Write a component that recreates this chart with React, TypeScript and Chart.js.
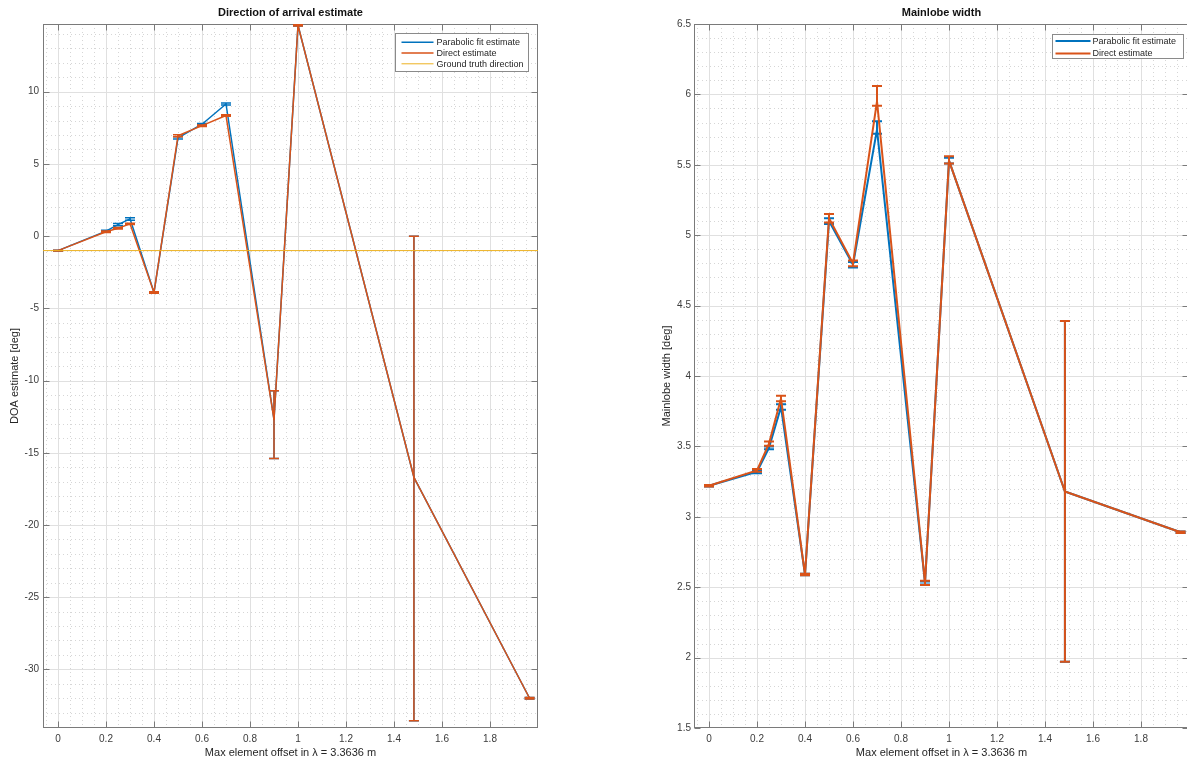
import React, { useEffect, useRef } from "react";
import { Chart, registerables } from "chart.js";

Chart.register(...registerables);
Chart.defaults.font.family = '"Liberation Sans", Arial, Helvetica, sans-serif';

// ---------------- data ----------------
const offsets = [0, 0.2, 0.25, 0.3, 0.4, 0.5, 0.6, 0.7, 0.9, 1.0, 1.483, 1.965];

const xTickValues = [0, 0.2, 0.4, 0.6, 0.8, 1, 1.2, 1.4, 1.6, 1.8];
const xTickLabels = ["0", "0.2", "0.4", "0.6", "0.8", "1", "1.2", "1.4", "1.6", "1.8"];
const X_MIN = -0.0625;
const X_MAX = 2.0;

// Direction of arrival
const doaParabolic = [-1.0, 0.35, 0.8, 1.2, -3.9, 6.8, 7.75, 9.15, -12.7, 14.6, -16.7, -32.0];
const doaParabolicLow = [-1.03, 0.3, 0.72, 1.1, -3.95, 6.72, 7.7, 9.08, -15.4, 14.55, -33.55, -32.05];
const doaParabolicHigh = [-0.97, 0.4, 0.88, 1.27, -3.85, 6.88, 7.8, 9.22, -10.7, 14.65, 0.0, -31.95];
const doaDirect = [-1.0, 0.3, 0.55, 0.85, -3.9, 6.95, 7.65, 8.35, -12.7, 14.6, -16.7, -32.0];
const doaDirectLow = [-1.03, 0.25, 0.5, 0.8, -3.95, 6.88, 7.6, 8.3, -15.4, 14.55, -33.55, -32.05];
const doaDirectHigh = [-0.97, 0.35, 0.6, 0.9, -3.85, 7.02, 7.7, 8.4, -10.7, 14.65, 0.0, -31.95];
const groundTruthDirection = -1.0;
const doaYTicks = [-30, -25, -20, -15, -10, -5, 0, 5, 10];
const doaYLabels = ["-30", "-25", "-20", "-15", "-10", "-5", "0", "5", "10"];
const DOA_Y_MIN = -34.06;
const DOA_Y_MAX = 14.69;

// Mainlobe width
const mlParabolic = [3.22, 3.32, 3.49, 3.78, 2.59, 5.1, 4.79, 5.75, 2.53, 5.53, 3.18, 2.89];
const mlParabolicLow = [3.215, 3.31, 3.48, 3.76, 2.585, 5.08, 4.77, 5.72, 2.52, 5.51, 1.97, 2.885];
const mlParabolicHigh = [3.225, 3.33, 3.5, 3.8, 2.595, 5.12, 4.81, 5.81, 2.54, 5.55, 4.39, 2.895];
const mlDirect = [3.22, 3.33, 3.52, 3.84, 2.59, 5.12, 4.8, 5.95, 2.53, 5.53, 3.18, 2.89];
const mlDirectLow = [3.215, 3.32, 3.505, 3.82, 2.585, 5.09, 4.78, 5.92, 2.515, 5.51, 1.97, 2.885];
const mlDirectHigh = [3.225, 3.34, 3.535, 3.86, 2.595, 5.15, 4.82, 6.06, 2.545, 5.56, 4.39, 2.895];
const mlYTicks = [1.5, 2, 2.5, 3, 3.5, 4, 4.5, 5, 5.5, 6, 6.5];
const mlYLabels = ["1.5", "2", "2.5", "3", "3.5", "4", "4.5", "5", "5.5", "6", "6.5"];
const ML_Y_MIN = 1.5;
const ML_Y_MAX = 6.5;

const seriesLabels = ["Parabolic fit estimate", "Direct estimate", "Ground truth direction"];
const X_TITLE = "Max element offset in \u03bb = 3.3636 m";

// ---------------- styles ----------------
const BLUE = "#0072BD";
const ORANGE = "#D95319";
const YELLOW = "#EDB120";
const AXIS_COLOR = "#7a7a7a";
const TICK_TEXT = "#3c3c3c";
const MAJOR_GRID = "#e0e0e0";
const MINOR_GRID = "#d6d6d6";

function makeDecor(cfg: any) {
  return {
    id: "matlabDecor",
    beforeDatasetsDraw(chart: any) {
      const { ctx, chartArea: a } = chart;
      const xs = chart.scales.x;
      const ys = chart.scales.y;
      ctx.save();
      ctx.beginPath();
      ctx.rect(a.left, a.top, a.right - a.left, a.bottom - a.top);
      ctx.clip();
      ctx.lineWidth = 1;
      const vline = (px: number) => {
        const p = Math.round(px) + 0.5;
        ctx.beginPath();
        ctx.moveTo(p, a.top);
        ctx.lineTo(p, a.bottom);
        ctx.stroke();
      };
      const hline = (py: number) => {
        const p = Math.round(py) + 0.5;
        ctx.beginPath();
        ctx.moveTo(a.left, p);
        ctx.lineTo(a.right, p);
        ctx.stroke();
      };
      ctx.strokeStyle = MINOR_GRID;
      ctx.setLineDash([1, 3]);
      for (let i = Math.ceil(xs.min / cfg.xMinor - 1e-9); i * cfg.xMinor <= xs.max + 1e-9; i++) {
        vline(xs.getPixelForValue(i * cfg.xMinor));
      }
      for (let i = Math.ceil(ys.min / cfg.yMinor - 1e-9); i * cfg.yMinor <= ys.max + 1e-9; i++) {
        hline(ys.getPixelForValue(i * cfg.yMinor));
      }
      ctx.setLineDash([]);
      ctx.strokeStyle = MAJOR_GRID;
      cfg.xTicks.forEach((v: number) => vline(xs.getPixelForValue(v)));
      cfg.yTicks.forEach((v: number) => hline(ys.getPixelForValue(v)));
      ctx.restore();

      // box and inward tick marks
      ctx.save();
      ctx.strokeStyle = AXIS_COLOR;
      ctx.lineWidth = 1;
      const L = Math.round(a.left) + 0.5;
      const R = Math.round(a.right) - 0.5;
      const T = Math.round(a.top) + 0.5;
      const B = Math.round(a.bottom) - 0.5;
      ctx.strokeRect(L, T, R - L, B - T);
      const tl = 6;
      ctx.beginPath();
      cfg.xTicks.forEach((v: number) => {
        const p = Math.round(xs.getPixelForValue(v)) + 0.5;
        ctx.moveTo(p, B);
        ctx.lineTo(p, B - tl);
        ctx.moveTo(p, T);
        ctx.lineTo(p, T + tl);
      });
      cfg.yTicks.forEach((v: number) => {
        const p = Math.round(ys.getPixelForValue(v)) + 0.5;
        ctx.moveTo(L, p);
        ctx.lineTo(L + tl, p);
        ctx.moveTo(R, p);
        ctx.lineTo(R - tl, p);
      });
      ctx.stroke();
      ctx.restore();
    },
    afterDatasetDraw(chart: any, args: any) {
      const ds = chart.data.datasets[args.index];
      if (!ds.errLow) return;
      const { ctx, chartArea: a } = chart;
      const xs = chart.scales.x;
      const ys = chart.scales.y;
      ctx.save();
      ctx.beginPath();
      ctx.rect(a.left, a.top, a.right - a.left, a.bottom - a.top);
      ctx.clip();
      ctx.strokeStyle = ds.borderColor;
      ctx.lineWidth = ds.borderWidth;
      ctx.lineCap = "butt";
      const cap = cfg.capHalf;
      ds.errX.forEach((xv: number, i: number) => {
        const px = xs.getPixelForValue(xv);
        const y1 = ys.getPixelForValue(ds.errLow[i]);
        const y2 = ys.getPixelForValue(ds.errHigh[i]);
        ctx.beginPath();
        ctx.moveTo(px, y1);
        ctx.lineTo(px, y2);
        ctx.moveTo(px - cap, y1);
        ctx.lineTo(px + cap, y1);
        ctx.moveTo(px - cap, y2);
        ctx.lineTo(px + cap, y2);
        ctx.stroke();
      });
      ctx.restore();
    },
    afterDraw(chart: any) {
      const { ctx, chartArea: a } = chart;
      ctx.save();
      // title
      ctx.fillStyle = "#111";
      ctx.font = 'bold 11px "Liberation Sans", Arial, sans-serif';
      ctx.textAlign = "center";
      ctx.textBaseline = "middle";
      ctx.fillText(cfg.title, (a.left + a.right) / 2, 12.5);
      // legend
      const lg = cfg.legend;
      const left = Math.round(a.right - lg.rightGap - lg.width) + 0.5;
      const top = Math.round(a.top + lg.topGap) + 0.5;
      ctx.fillStyle = "#ffffff";
      ctx.fillRect(left, top, lg.width, lg.height);
      ctx.strokeStyle = "#8a8a8a";
      ctx.lineWidth = 1;
      ctx.strokeRect(left, top, lg.width, lg.height);
      ctx.font = '9px "Liberation Sans", Arial, sans-serif';
      ctx.textAlign = "left";
      lg.items.forEach((it: any, i: number) => {
        const y = top + lg.firstRow + i * lg.rowH;
        ctx.strokeStyle = it.color;
        ctx.lineWidth = it.width;
        ctx.beginPath();
        ctx.moveTo(left + lg.lineStart, y);
        ctx.lineTo(left + lg.lineStart + lg.lineLen, y);
        ctx.stroke();
        ctx.fillStyle = "#262626";
        ctx.fillText(it.label, left + lg.textX, y + 0.5);
      });
      ctx.restore();
    },
  };
}

function lineDataset(label: string, ys: number[], low: number[] | null, high: number[] | null, color: string, width: number, order: number) {
  return {
    label,
    data: offsets.map((x, i) => ({ x, y: ys[i] })),
    borderColor: color,
    backgroundColor: color,
    borderWidth: width,
    pointRadius: 0,
    tension: 0,
    borderJoinStyle: "round",
    borderCapStyle: "round",
    order,
    errX: offsets,
    errLow: low,
    errHigh: high,
  };
}

function buildConfig(p: any) {
  return {
    type: "line",
    data: { datasets: p.datasets },
    options: {
      animation: false,
      responsive: false,
      devicePixelRatio: 1,
      events: [],
      layout: { padding: { left: 0, right: p.padRight, top: 24, bottom: 0 } },
      plugins: {
        legend: { display: false },
        title: { display: false },
        tooltip: { enabled: false },
      },
      scales: {
        x: {
          type: "linear",
          min: X_MIN,
          max: X_MAX,
          grid: { display: false, drawTicks: false },
          border: { display: false },
          afterBuildTicks: (s: any) => {
            s.ticks = xTickValues.map((v) => ({ value: v }));
          },
          afterFit: (s: any) => {
            s.height = 35;
          },
          ticks: {
            autoSkip: false,
            maxRotation: 0,
            minRotation: 0,
            padding: 5,
            color: TICK_TEXT,
            font: { size: 10 },
            callback: (_v: any, i: number) => xTickLabels[i],
          },
          title: {
            display: true,
            text: X_TITLE,
            color: "#262626",
            font: { size: 11 },
            padding: { top: 0, bottom: 3 },
          },
        },
        y: {
          type: "linear",
          min: p.yMin,
          max: p.yMax,
          grid: { display: false, drawTicks: false },
          border: { display: false },
          afterBuildTicks: (s: any) => {
            s.ticks = p.yTicks.map((v: number) => ({ value: v }));
          },
          afterFit: (s: any) => {
            s.width = p.yAxisWidth;
          },
          ticks: {
            autoSkip: false,
            padding: p.yTickPad,
            color: TICK_TEXT,
            font: { size: 10 },
            callback: (_v: any, i: number) => p.yLabels[i],
          },
          title: {
            display: true,
            text: p.yTitle,
            color: "#262626",
            font: { size: 11 },
            padding: { top: p.yTitlePad, bottom: 0 },
          },
        },
      },
    },
    plugins: [makeDecor(p.decor)],
  };
}

function leftConfig() {
  const datasets = [
    lineDataset(seriesLabels[0], doaParabolic, doaParabolicLow, doaParabolicHigh, BLUE, 1.5, 3),
    lineDataset(seriesLabels[1], doaDirect, doaDirectLow, doaDirectHigh, ORANGE, 1.5, 2),
    {
      label: seriesLabels[2],
      data: [
        { x: X_MIN, y: groundTruthDirection },
        { x: X_MAX, y: groundTruthDirection },
      ],
      borderColor: YELLOW,
      borderWidth: 1,
      pointRadius: 0,
      order: 1,
    },
  ];
  return buildConfig({
    datasets,
    padRight: 22,
    yMin: DOA_Y_MIN,
    yMax: DOA_Y_MAX,
    yTicks: doaYTicks,
    yLabels: doaYLabels,
    yAxisWidth: 43,
    yTickPad: 4,
    yTitle: "DOA estimate [deg]",
    yTitlePad: 8,
    decor: {
      title: "Direction of arrival estimate",
      xTicks: xTickValues,
      yTicks: doaYTicks,
      xMinor: 0.05,
      yMinor: 1,
      capHalf: 5,
      legend: {
        rightGap: 10,
        topGap: 9,
        width: 133,
        height: 38,
        firstRow: 8.7,
        rowH: 10.8,
        lineStart: 6,
        lineLen: 32,
        textX: 41,
        items: [
          { label: seriesLabels[0], color: BLUE, width: 1.5 },
          { label: seriesLabels[1], color: ORANGE, width: 1.5 },
          { label: seriesLabels[2], color: YELLOW, width: 1 },
        ],
      },
    },
  });
}

function rightConfig() {
  const datasets = [
    lineDataset(seriesLabels[0], mlParabolic, mlParabolicLow, mlParabolicHigh, BLUE, 2, 3),
    lineDataset(seriesLabels[1], mlDirect, mlDirectLow, mlDirectHigh, ORANGE, 2, 2),
  ];
  return buildConfig({
    datasets,
    padRight: 51,
    yMin: ML_Y_MIN,
    yMax: ML_Y_MAX,
    yTicks: mlYTicks,
    yLabels: mlYLabels,
    yAxisWidth: 54,
    yTickPad: 3,
    yTitle: "Mainlobe width [deg]",
    yTitlePad: 20,
    decor: {
      title: "Mainlobe width",
      xTicks: xTickValues,
      yTicks: mlYTicks,
      xMinor: 0.05,
      yMinor: 0.1,
      capHalf: 5,
      legend: {
        rightGap: 6,
        topGap: 10,
        width: 131,
        height: 24,
        firstRow: 6.5,
        rowH: 12.5,
        lineStart: 3,
        lineLen: 35,
        textX: 40,
        items: [
          { label: seriesLabels[0], color: BLUE, width: 2 },
          { label: seriesLabels[1], color: ORANGE, width: 2 },
        ],
      },
    },
  });
}

export default function App() {
  const leftRef = useRef<HTMLCanvasElement>(null);
  const rightRef = useRef<HTMLCanvasElement>(null);
  useEffect(() => {
    const c1 = new Chart(leftRef.current as HTMLCanvasElement, leftConfig() as any);
    const c2 = new Chart(rightRef.current as HTMLCanvasElement, rightConfig() as any);
    return () => {
      c1.destroy();
      c2.destroy();
    };
  }, []);
  return (
    <div
      style={{
        position: "fixed",
        left: 0,
        top: 0,
        width: 1187,
        height: 763,
        overflow: "hidden",
        background: "#ffffff",
      }}
    >
      <canvas ref={leftRef} width={560} height={763} style={{ position: "absolute", left: 0, top: 0 }} />
      <canvas ref={rightRef} width={600} height={763} style={{ position: "absolute", left: 640, top: 0 }} />
    </div>
  );
}
